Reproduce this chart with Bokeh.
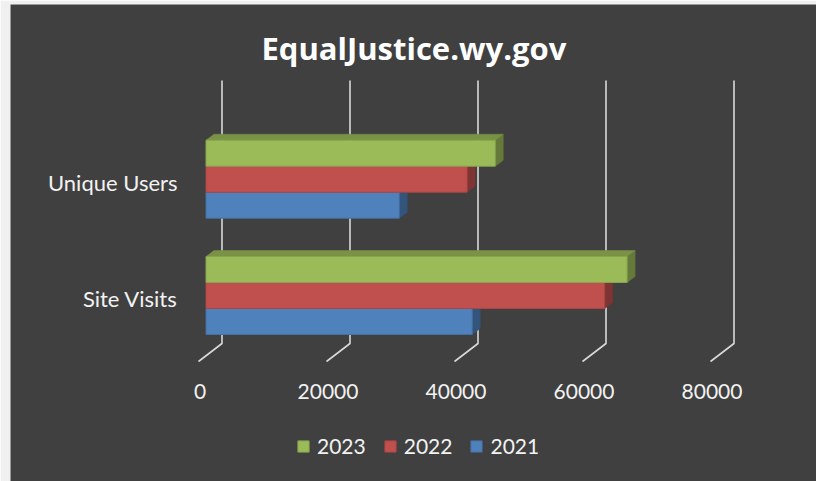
from bokeh.plotting import figure
from bokeh.models import Range1d, Legend, LegendItem, ColumnDataSource
from bokeh.embed import file_html
from bokeh.resources import INLINE
from bokeh.core.properties import value

# ---------------- data ----------------
title_text = "EqualJustice.wy.gov"
categories = ["Site Visits", "Unique Users"]          # bottom to top
years = ["2021", "2022", "2023"]
values_2021 = [41600, 30200]
values_2022 = [62300, 40800]
values_2023 = [65800, 45200]
x_ticks = [0, 20000, 40000, 60000, 80000]
tick_labels = ["0", "20000", "40000", "60000", "80000"]

series = {"2021": values_2021, "2022": values_2022, "2023": values_2023}

# ---------------- styles / layout ----------------
W, H = 816, 481
BL, BT = 10, 4                 # light page strip left / top
PXX = 0.0064                   # px per value unit
PXY = 116.3                    # px per category unit
X0_PX = 205.5                  # page x of value 0 (front face)
Y0_PX = 295.0                  # page y of first category centre


def vx(px):
    return (px - X0_PX) / PXX


def vy(py):
    return (Y0_PX - py) / PXY


BG = "#404040"
FONT = "Lato"
TXT = "#f2f2f2"

front = {"2021": "#4F81BD", "2022": "#C0504D", "2023": "#9BBB59"}
top_c = {"2021": "#3f6797", "2022": "#9a403e", "2023": "#799245"}
side_c = {"2021": "#33547b", "2022": "#7d3432", "2023": "#657a3a"}
edge_c = {"2021": "#44709f", "2022": "#a94643", "2023": "#88a54e"}
offset = {"2021": -1, "2022": 0, "2023": 1}

BH = 26 / PXY          # bar thickness
DX = 8 / PXX           # bar depth (x)
DY = 6 / PXY           # bar depth (y)
WX = 16 / PXX          # back wall offset x
FX = -7.5 / PXX        # floor front offset x
WALL_TOP = vy(80)
FLOOR_BACK = vy(343)
FLOOR_FRONT = vy(361)

p = figure(width=W, height=H, output_backend="svg", toolbar_location=None,
           x_range=Range1d(vx(BL), vx(W)), y_range=Range1d(vy(H), vy(BT)),
           min_border_left=BL, min_border_top=BT, min_border_right=0, min_border_bottom=0,
           border_fill_color="#f0f0f0", background_fill_color=BG,
           outline_line_color=None)
p.axis.visible = False
p.grid.visible = False

# back-wall gridlines with floor diagonals
p.multi_line(xs=[[t + WX, t + WX, t + FX] for t in x_ticks],
             ys=[[WALL_TOP, FLOOR_BACK, FLOOR_FRONT] for _ in x_ticks],
             line_color="#d9d9d9", line_width=1.6)

cat_y = list(range(len(categories)))
renderers = {}
for yr in years:
    vals = series[yr]
    yc = [c + offset[yr] * BH for c in cat_y]
    ybot = [y - BH / 2 for y in yc]
    ytop = [y + BH / 2 for y in yc]
    # side faces
    p.patches(xs=[[v, v + DX, v + DX, v] for v in vals],
              ys=[[b, b + DY, t + DY, t] for b, t in zip(ybot, ytop)],
              fill_color=side_c[yr], line_color=side_c[yr], line_width=0.5)
    # top faces
    p.patches(xs=[[0, v, v + DX, DX] for v in vals],
              ys=[[t, t, t + DY, t + DY] for t in ytop],
              fill_color=top_c[yr], line_color=top_c[yr], line_width=0.5)
    src = ColumnDataSource(dict(y=yc, right=vals))
    renderers[yr] = p.hbar(y="y", left=0, right="right", height=BH, source=src,
                           fill_color=front[yr], line_color=edge_c[yr], line_width=1)

# category labels
p.text(x=[vx(177)] * len(categories), y=[c - 0.025 for c in cat_y], text=categories,
       text_align="right", text_baseline="middle", text_color=TXT,
       text_font=value(FONT), text_font_size="22px")

# value tick labels
p.text(x=[t - 940 for t in x_ticks], y=[vy(391)] * len(x_ticks), text=tick_labels,
       text_align="center", text_baseline="middle", text_color=TXT,
       text_font=value(FONT), text_font_size="21px")

# title
p.text(x=[vx(413.4)], y=[vy(47)], text=[title_text],
       text_align="center", text_baseline="middle", text_color="#ffffff",
       text_font=value("Open Sans"), text_font_style="bold", text_font_size="31px")

legend = Legend(items=[LegendItem(label=yr, renderers=[renderers[yr]]) for yr in reversed(years)],
                orientation="horizontal", location=(286, 23),
                glyph_width=14, glyph_height=14, label_standoff=7, spacing=17,
                padding=0, margin=0, background_fill_alpha=0, border_line_color=None,
                label_text_color=TXT, label_text_font=FONT, label_text_font_size="21px")
p.add_layout(legend)

open("out.html", "w").write(file_html(p, INLINE))
